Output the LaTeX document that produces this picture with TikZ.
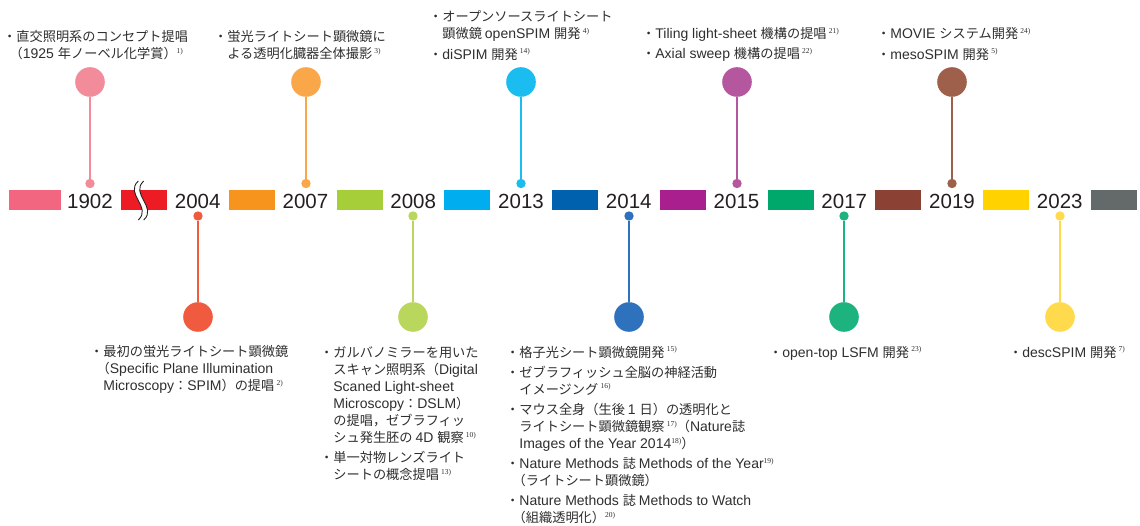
\documentclass[tikz,border=0pt]{standalone}
\usepackage{fontspec}
\setmainfont{Liberation Sans}
\newfontfamily\jpf{Noto Sans CJK JP}
\newfontfamily\latinf[Scale=1.06]{Liberation Sans}
\newfontfamily\supf{Liberation Serif}
\newXeTeXintercharclass\cjkcls
\makeatletter
\count@="3000
\loop\XeTeXcharclass\count@=\cjkcls\advance\count@ 1 \ifnum\count@<"3100 \repeat
\count@="4E00
\loop\XeTeXcharclass\count@=\cjkcls\advance\count@ 1 \ifnum\count@<"A000 \repeat
\count@="FF00
\loop\XeTeXcharclass\count@=\cjkcls\advance\count@ 1 \ifnum\count@<"FFF0 \repeat
\makeatother
\XeTeXinterchartoks 0 \cjkcls = {\jpf}
\XeTeXinterchartoks 4095 \cjkcls = {\jpf}
\XeTeXinterchartoks \cjkcls 0 = {\latinf}
\XeTeXinterchartoks 4095 0 = {\latinf}
\newcommand\rf[1]{\raisebox{5.2pt}{\XeTeXinterchartokenstate=0 \fontsize{7.5}{7.5}\supf #1}}
\newcommand\ind{\hspace*{13.2pt}}
\newcommand\pind{\hspace*{6.5pt}}
\definecolor{txtc}{HTML}{2E2E2E}
\definecolor{yearc}{HTML}{231F20}
\definecolor{bar1}{HTML}{F26680}
\definecolor{bar2}{HTML}{ED1C24}
\definecolor{bar3}{HTML}{F7941D}
\definecolor{bar4}{HTML}{A6CE39}
\definecolor{bar5}{HTML}{00AEEF}
\definecolor{bar6}{HTML}{0061AF}
\definecolor{bar7}{HTML}{A91F8E}
\definecolor{bar8}{HTML}{00A86B}
\definecolor{bar9}{HTML}{8B4134}
\definecolor{bar10}{HTML}{FFD200}
\definecolor{bar11}{HTML}{646A69}
\definecolor{dot1}{HTML}{F28B9A}
\definecolor{dot2}{HTML}{F05A3F}
\definecolor{dot3}{HTML}{FAA74A}
\definecolor{dot4}{HTML}{B8D75C}
\definecolor{dot5}{HTML}{1BBDF0}
\definecolor{dot6}{HTML}{2E72BE}
\definecolor{dot7}{HTML}{B4579F}
\definecolor{dot8}{HTML}{1DB37F}
\definecolor{dot9}{HTML}{9E5F4B}
\definecolor{dot10}{HTML}{FFDA4C}
\tikzset{
  bar/.style={rectangle, inner sep=0pt, minimum width=46pt, minimum height=20pt, draw=none},
  year/.style={inner sep=0pt, text=yearc, font=\fontsize{20.5}{20.5}\selectfont},
  bigc/.style={circle, inner sep=0pt, minimum size=29.6pt, draw=none},
  smallc/.style={circle, inner sep=0pt, minimum size=9.4pt, draw=none},
  stem/.style={line width=1.8pt},
  brk/.style={draw=yearc, line width=0.9pt},
  txt/.style={anchor=base west, inner sep=0pt, text=txtc,
    font={\XeTeXinterchartokenstate=1 \fontsize{13.2}{17.1}\selectfont\latinf}},
}
\begin{document}
\begin{tikzpicture}[x=1pt,y=-1pt]
\useasboundingbox (0,0) rectangle (1140,526);
% bars
\node[bar, fill=bar1, minimum width=52pt] (r1) at (35,200) {};
\foreach \i in {2,...,11}{
  \pgfmathsetmacro\xx{144+107.75*(\i-2)}
  \node[bar, fill=bar\i] (r\i) at (\xx,200) {};
}
% break mark
\draw[white, line width=5pt] (141,181) .. controls (127,194) and (155,207) .. (141,220);
\draw[brk] (138.3,181) .. controls (124.3,194) and (152.3,207) .. (138.3,220);
\draw[brk] (143.7,181) .. controls (129.7,194) and (157.7,207) .. (143.7,220);
% years
\foreach \yr [count=\k] in {1902,2004,2007,2008,2013,2014,2015,2017,2019,2023}{
  \pgfmathsetmacro\xx{90+107.75*(\k-1)}
  \node[year] (y\k) at (\xx,201) {\yr};
}
% top markers
\foreach \k in {1,3,5,7,9}{
  \pgfmathsetmacro\xx{round(90+107.75*(\k-1))}
  \node[bigc, fill=dot\k] (c\k) at (\xx,82) {};
  \node[smallc, fill=dot\k] (d\k) at (\xx,183.5) {};
  \draw[stem, draw=dot\k] (c\k) -- (d\k);
}
% bottom markers
\foreach \k in {2,4,6,8,10}{
  \pgfmathsetmacro\xx{round(90+107.75*(\k-1))}
  \node[bigc, fill=dot\k] (c\k) at (\xx,317) {};
  \node[smallc, fill=dot\k] (d\k) at (\xx,216) {};
  \draw[stem, draw=dot\k] (c\k) -- (d\k);
}
% top texts
\node[txt] (t1902) at (3,41.5) {\begin{tabular}[t]{@{}l@{}}・直交照明系のコンセプト提唱\\\pind（1925 年ノーベル化学賞）\rf{1)}\end{tabular}};
\node[txt] (t2007) at (214,41.5) {\begin{tabular}[t]{@{}l@{}}・蛍光ライトシート顕微鏡に\\\ind よる透明化臓器全体撮影\,\rf{3)}\end{tabular}};
\node[txt] (t2013) at (429,21.5) {\begin{tabular}[t]{@{}l@{}}・オープンソースライトシート\\\ind 顕微鏡 openSPIM 開発\,\rf{4)}\\[3.5pt]・diSPIM 開発\,\rf{14)}\end{tabular}};
\node[txt] (t2015) at (642,38.5) {\begin{tabular}[t]{@{}l@{}}・Tiling light-sheet 機構の提唱\,\rf{21)}\\[3pt]・Axial sweep 機構の提唱\,\rf{22)}\end{tabular}};
\node[txt] (t2019) at (877,38.5) {\begin{tabular}[t]{@{}l@{}}・MOVIE システム開発\,\rf{24)}\\[3.5pt]・mesoSPIM 開発\,\rf{5)}\end{tabular}};
% bottom texts
\node[txt] (t2004) at (90,356.5) {\begin{tabular}[t]{@{}l@{}}・最初の蛍光ライトシート顕微鏡\\\pind（Specific Plane Illumination\\\ind Microscopy：SPIM）の提唱\,\rf{2)}\end{tabular}};
\node[txt] (t2008) at (320,357) {\begin{tabular}[t]{@{}l@{}}・ガルバノミラーを用いた\\\ind スキャン照明系（Digital\\\ind Scaned Light-sheet\\\ind Microscopy：DSLM）\\\ind の提唱，ゼブラフィッ\\\ind シュ発生胚の 4D 観察\,\rf{10)}\\[3pt]・単一対物レンズライト\\\ind シートの概念提唱\,\rf{13)}\end{tabular}};
\node[txt] (t2014) at (506,357) {\begin{tabular}[t]{@{}l@{}}・格子光シート顕微鏡開発\,\rf{15)}\\[3pt]・ゼブラフィッシュ全脳の神経活動\\\ind イメージング\,\rf{16)}\\[3pt]・マウス全身（生後 1 日）の透明化と\\\ind ライトシート顕微鏡観察\,\rf{17)}（Nature誌\\\ind Images of the Year 2014\rf{18)}）\\[3pt]・Nature Methods 誌 Methods of the Year\rf{19)}\\\pind（ライトシート顕微鏡）\\[3pt]・Nature Methods 誌 Methods to Watch\\\pind（組織透明化）\rf{20)}\end{tabular}};
\node[txt] (t2017) at (769,357) {・open-top LSFM 開発\,\rf{23)}};
\node[txt] (t2023) at (1009,357) {・descSPIM 開発\,\rf{7)}};
\end{tikzpicture}
\end{document}
